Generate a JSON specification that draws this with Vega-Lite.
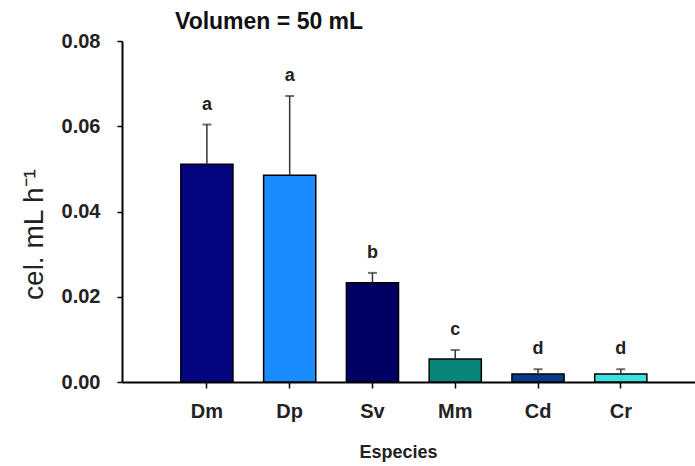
{
  "$schema": "https://vega.github.io/schema/vega-lite/v6.json",
  "autosize": {"type": "none"},
  "width": 573,
  "height": 341,
  "padding": {"left": 122, "top": 41, "right": 0, "bottom": 84},
  "background": "white",
  "title": {
    "text": "Volumen = 50 mL",
    "anchor": "start",
    "frame": "group",
    "dx": 53,
    "offset": 0,
    "dy": 3,
    "font": "Liberation Sans",
    "fontSize": 23,
    "fontWeight": "bold",
    "color": "#111"
  },
  "data": {
    "values": [
      {"Especie": "Dm", "value": 0.0511, "err": 0.0604, "letter": "a"},
      {"Especie": "Dp", "value": 0.0485, "err": 0.0671, "letter": "a"},
      {"Especie": "Sv", "value": 0.0233, "err": 0.0256, "letter": "b"},
      {"Especie": "Mm", "value": 0.0054, "err": 0.0075, "letter": "c"},
      {"Especie": "Cd", "value": 0.0019, "err": 0.0030, "letter": "d"},
      {"Especie": "Cr", "value": 0.0019, "err": 0.0030, "letter": "d"}
    ]
  },
  "encoding": {
    "x": {
      "field": "Especie",
      "type": "nominal",
      "sort": null,
      "scale": {"paddingInner": 0.37, "paddingOuter": 0.646, "align": 0.55},
      "axis": {
        "title": "Especies",
        "labelAngle": 0,
        "labelFont": "Liberation Sans",
        "labelFontWeight": "bold",
        "labelFontSize": 20,
        "labelColor": "#222",
        "labelPadding": 13,
        "tickSize": 6,
        "tickWidth": 1.5,
        "tickColor": "#000",
        "domainColor": "#000",
        "domainWidth": 2,
        "titleFont": "Liberation Sans",
        "titleFontWeight": "bold",
        "titleFontSize": 18,
        "titleColor": "#222",
        "titleX": 276,
        "titleY": 75,
        "titleAlign": "center",
        "titleBaseline": "alphabetic"
      }
    }
  },
  "layer": [
    {
      "mark": {"type": "bar", "stroke": "#000", "strokeWidth": 1.5},
      "encoding": {
        "y": {
          "field": "value",
          "type": "quantitative",
          "scale": {"domain": [0, 0.08], "nice": false, "zero": true},
          "axis": {
            "title": "cel. mL h⁻¹",
            "values": [0, 0.02, 0.04, 0.06, 0.08],
            "format": ".2f",
            "grid": false,
            "labelFont": "Liberation Sans",
            "labelFontWeight": "bold",
            "labelFontSize": 20,
            "labelColor": "#222",
            "labelPadding": 17,
            "tickSize": 5,
            "tickWidth": 1.5,
            "tickColor": "#000",
            "domainColor": "#000",
            "domainWidth": 2,
            "titleFont": "Liberation Sans",
            "titleFontWeight": "normal",
            "titleFontSize": 28,
            "titleColor": "#222",
            "titleAngle": 270,
            "titleX": -80,
            "titleY": 193,
            "titleAlign": "center",
            "titleBaseline": "alphabetic"
          }
        },
        "color": {
          "field": "Especie",
          "type": "nominal",
          "scale": {
            "domain": ["Dm", "Dp", "Sv", "Mm", "Cd", "Cr"],
            "range": ["#04047f", "#1a8cff", "#000064", "#0a857a", "#083a8c", "#3ce0e0"]
          },
          "legend": null
        }
      }
    },
    {
      "mark": {"type": "rule", "color": "#333", "strokeWidth": 1.5},
      "encoding": {
        "y": {"field": "value", "type": "quantitative"},
        "y2": {"field": "err"}
      }
    },
    {
      "mark": {"type": "tick", "color": "#333", "size": 9, "thickness": 2},
      "encoding": {
        "y": {"field": "err", "type": "quantitative"}
      }
    },
    {
      "mark": {"type": "text", "dy": -11, "baseline": "bottom", "font": "Liberation Sans", "fontWeight": "bold", "fontSize": 18, "color": "#222"},
      "encoding": {
        "y": {"field": "err", "type": "quantitative"},
        "text": {"field": "letter"}
      }
    }
  ],
  "config": {"view": {"stroke": null}}
}
